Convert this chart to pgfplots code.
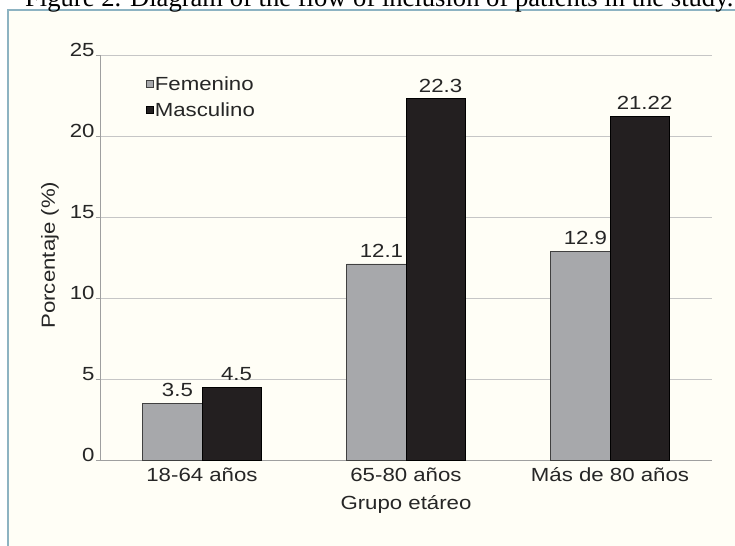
\documentclass[border=0pt]{standalone}
\usepackage{fontspec}
\setmainfont{Liberation Sans}[FakeStretch=1.17]
\newfontfamily\titlefont{Liberation Serif}
\usepackage{pgfplots}
\pgfplotsset{compat=1.18}
\definecolor{barg}{HTML}{A7A8AB}
\definecolor{bark}{HTML}{231F20}
\definecolor{framec}{HTML}{8DB3C2}
\definecolor{bgc}{HTML}{FFFEF6}
\definecolor{txt}{HTML}{262626}
\newcommand{\cf}{\fontsize{19bp}{22bp}\selectfont}
\begin{document}
\begin{tikzpicture}
\useasboundingbox (0,0) rectangle (735bp,-546bp);
\clip (0,0) rectangle (735bp,-546bp);
\fill[bgc] (8bp,-10bp) rectangle (735bp,-546bp);
\draw[framec, line width=1.2bp] (8bp,-546bp) -- (8bp,-10bp) -- (735bp,-10bp);
\node[anchor=base west, inner sep=0pt, font=\titlefont\fontsize{26.6bp}{29bp}\selectfont] at (25bp,-6bp) {Figure 2. Diagram of the flow of inclusion of patients in the study.};
\begin{axis}[
  at={(100bp,-460bp)}, anchor=south west,
  scale only axis, width=612bp, height=405bp,
  xmin=-0.5, xmax=2.5, ymin=0, ymax=25,
  axis x line*=bottom, axis y line*=left,
  axis line style={draw=gray!75, line width=0.8bp},
  ymajorgrids, grid style={draw=gray!45, line width=0.8bp},
  ytick={0,5,...,25}, xtick={0,1,2},
  xticklabels={18-64 años,65-80 años,Más de 80 años},
  x tick style={draw=none}, y tick style={draw=gray!75, line width=0.8bp},
  tick align=outside, major tick length=4bp,
  ticklabel style={font=\cf, text=txt},
  yticklabel style={yshift=5bp, xshift=2bp},
  /pgf/number format/assume math mode=true,
  xlabel={Grupo etáreo}, ylabel={Porcentaje (\%)},
  label style={font=\cf, text=txt},
  xlabel style={at={(axis description cs:0.5,0)}, anchor=center, yshift=-44bp},
  ylabel style={at={(axis description cs:-0.0817,0.506)}, anchor=center},
  ybar=0pt, bar width=0.29,
  legend style={at={(0.07,0.955)}, anchor=north west, draw=none, fill=none,
    font=\cf, text=txt, row sep=9bp, nodes={inner sep=1bp}},
  legend cell align=left,
  legend image code/.code={\draw[#1, line width=0.8bp] (0bp,-3.5bp) rectangle (7bp,3.5bp);},
  nodes near coords,
  every node near coord/.append style={font=\cf, text=txt, anchor=south, inner sep=0pt, yshift=6bp, xshift=5bp},
]
\addplot[fill=barg, draw=black!75, line width=0.8bp, bar shift=-0.145] coordinates {(0,3.5) (1,12.1) (2,12.9)};
\addplot[fill=bark, draw=black, line width=0.8bp, bar shift=0.145] coordinates {(0,4.5) (1,22.3) (2,21.22)};
\legend{Femenino, Masculino}
\end{axis}
\end{tikzpicture}
\end{document}
